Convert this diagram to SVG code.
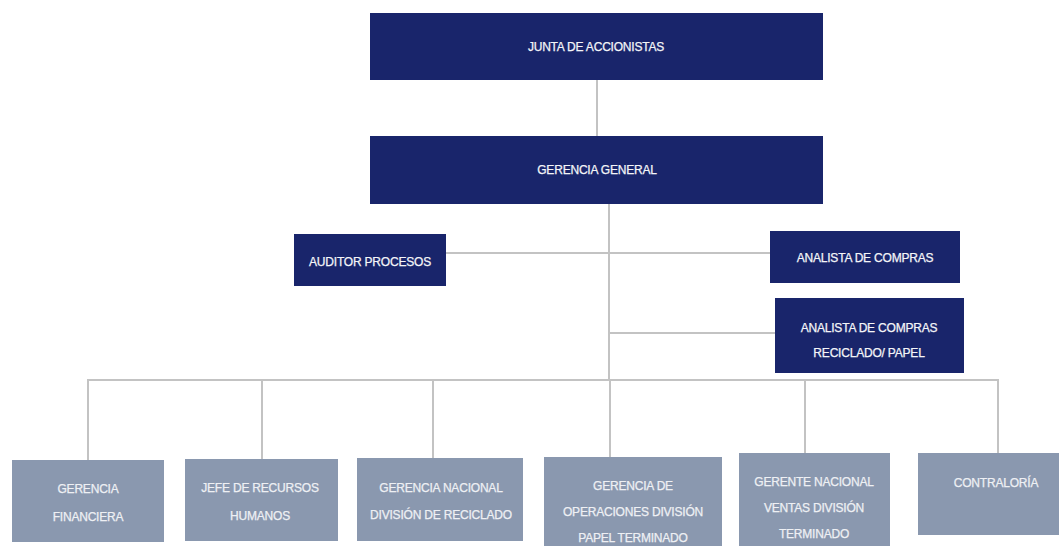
<svg xmlns="http://www.w3.org/2000/svg" width="1059" height="546" viewBox="0 0 1059 546">
<style>
.dark{fill:#19256B}
.gray{fill:#8A98AF}
.t{font-family:"Liberation Sans",Arial,sans-serif;font-size:12px;letter-spacing:-0.2px;text-anchor:middle;dominant-baseline:central;stroke-width:0.25px}
.tw{fill:#F4F5F8;stroke:#F4F5F8}
.tg{fill:#EEF0F4;stroke:#EEF0F4}
.c{stroke:#C3C3C3;stroke-width:2;fill:none}
</style>
<rect width="1059" height="546" fill="#FFFFFF"/>
<g id="connectors">
<line class="c" x1="597" y1="80" x2="597" y2="136"/>
<line class="c" x1="609" y1="204" x2="609" y2="380"/>
<line class="c" x1="446" y1="253" x2="770" y2="253"/>
<line class="c" x1="609" y1="333" x2="775" y2="333"/>
<line class="c" x1="88" y1="380" x2="998" y2="380"/>
<line class="c" x1="88" y1="379" x2="88" y2="460"/>
<line class="c" x1="262" y1="379" x2="262" y2="459"/>
<line class="c" x1="433" y1="379" x2="433" y2="458"/>
<line class="c" x1="610" y1="379" x2="610" y2="457"/>
<line class="c" x1="805" y1="379" x2="805" y2="453"/>
<line class="c" x1="998" y1="379" x2="998" y2="453"/>
</g>
<g id="junta">
<rect class="dark" x="370" y="13" width="453" height="67"/>
<text class="t tw" x="596" y="47">JUNTA DE ACCIONISTAS</text>
</g>
<g id="gerencia-general">
<rect class="dark" x="370" y="136" width="453" height="68"/>
<text class="t tw" x="597" y="170">GERENCIA GENERAL</text>
</g>
<g id="auditor">
<rect class="dark" x="294" y="234" width="152" height="52"/>
<text class="t tw" x="370" y="262">AUDITOR PROCESOS</text>
</g>
<g id="analista-compras">
<rect class="dark" x="770" y="231" width="190" height="52"/>
<text class="t tw" x="865" y="258">ANALISTA DE COMPRAS</text>
</g>
<g id="analista-reciclado">
<rect class="dark" x="775" y="298" width="189" height="75"/>
<text class="t tw" x="869" y="328">ANALISTA DE COMPRAS</text>
<text class="t tw" x="869" y="353">RECICLADO/ PAPEL</text>
</g>
<g id="gerencia-financiera">
<rect class="gray" x="12" y="460" width="152" height="82"/>
<text class="t tg" x="88" y="489">GERENCIA</text>
<text class="t tg" x="88" y="517">FINANCIERA</text>
</g>
<g id="jefe-rrhh">
<rect class="gray" x="185" y="459" width="153" height="82"/>
<text class="t tg" x="260" y="488">JEFE DE RECURSOS</text>
<text class="t tg" x="260" y="516">HUMANOS</text>
</g>
<g id="gerencia-nacional-reciclado">
<rect class="gray" x="357" y="458" width="166" height="83"/>
<text class="t tg" x="441" y="488">GERENCIA NACIONAL</text>
<text class="t tg" x="441" y="515">DIVISIÓN DE RECICLADO</text>
</g>
<g id="gerencia-operaciones">
<rect class="gray" x="544" y="457" width="178" height="92"/>
<text class="t tg" x="633" y="486">GERENCIA DE</text>
<text class="t tg" x="633" y="512">OPERACIONES DIVISIÓN</text>
<text class="t tg" x="633" y="538">PAPEL TERMINADO</text>
</g>
<g id="gerente-ventas">
<rect class="gray" x="739" y="453" width="151" height="96"/>
<text class="t tg" x="814" y="482">GERENTE NACIONAL</text>
<text class="t tg" x="814" y="508">VENTAS DIVISIÓN</text>
<text class="t tg" x="814" y="534">TERMINADO</text>
</g>
<g id="contraloria">
<rect class="gray" x="918" y="453" width="141" height="82"/>
<text class="t tg" x="996" y="483">CONTRALORÍA</text>
</g>
</svg>
